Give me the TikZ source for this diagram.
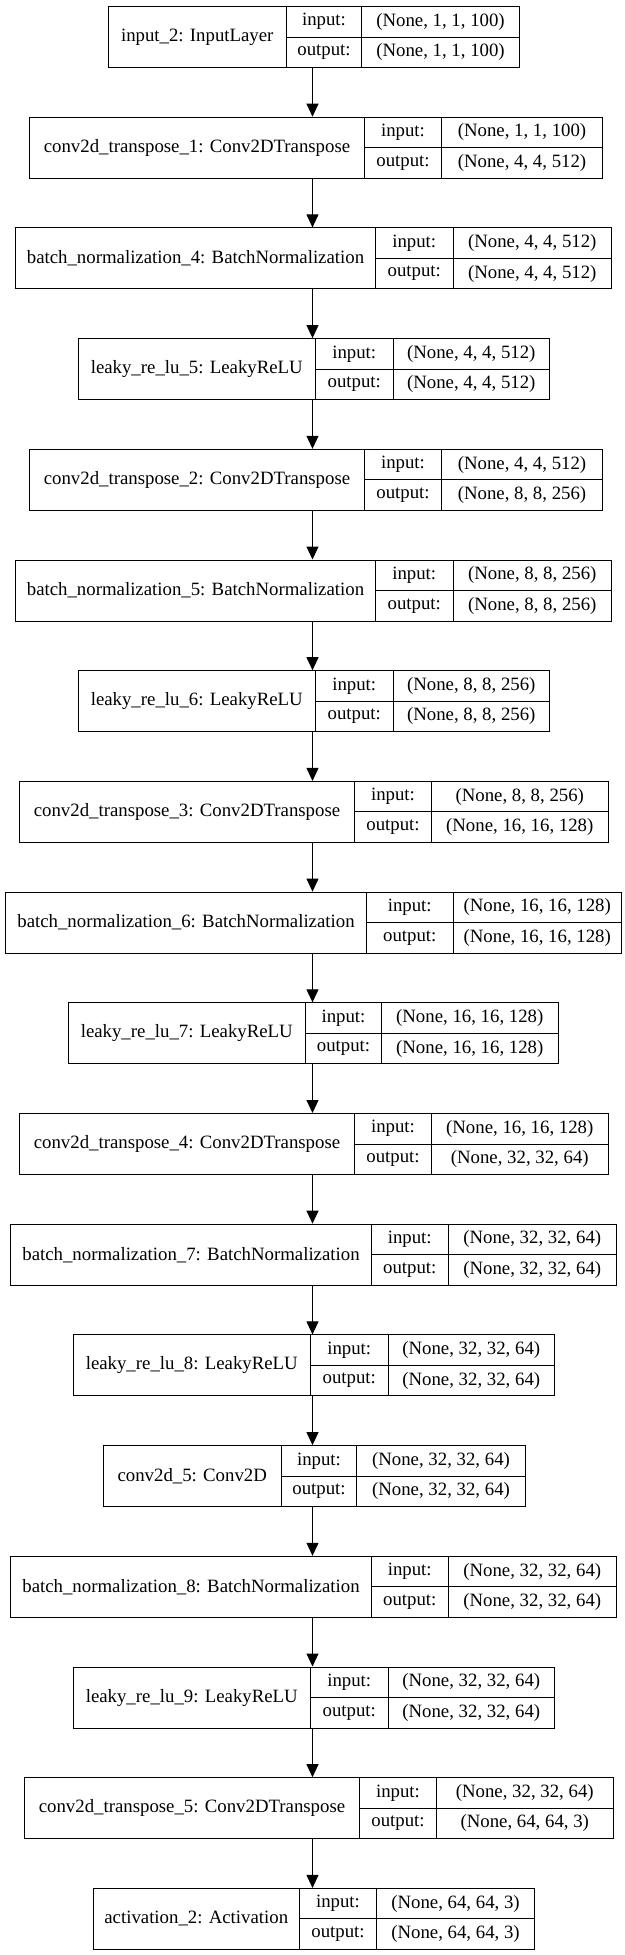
\documentclass[tikz,border=0pt]{standalone}
\usepackage{fontspec}
\setmainfont{Liberation Serif}
\usetikzlibrary{positioning, arrows.meta}

\tikzset{
  cell/.style={draw, line width=1bp, anchor=north west, inner sep=0pt,
    font=\fontsize{18.8bp}{22bp}\selectfont},
  namecell/.style={cell, minimum height=61bp},
  labcell/.style={cell, minimum height=30.5bp},
  flow/.style={line width=1bp, -{Triangle[length=13bp, width=12bp]}}
}

\begin{document}
\begin{tikzpicture}[x=1bp, y=-1bp]
    \useasboundingbox[fill=white] (0,0) rectangle (625,1955);

    % Layers: number / name / cell edges / input shape / output shape
    \foreach \i/\name/\xa/\xb/\xc/\xd/\inp/\outp in {
      1/input\_2: InputLayer/107.5/286/361/519/{(None, 1, 1, 100)}/{(None, 1, 1, 100)},
      2/conv2d\_transpose\_1: Conv2DTranspose/29/364/441/602/{(None, 1, 1, 100)}/{(None, 4, 4, 512)},
      3/batch\_normalization\_4: BatchNormalization/15/375/452.5/611/{(None, 4, 4, 512)}/{(None, 4, 4, 512)},
      4/leaky\_re\_lu\_5: LeakyReLU/77.5/315/392.5/549/{(None, 4, 4, 512)}/{(None, 4, 4, 512)},
      5/conv2d\_transpose\_2: Conv2DTranspose/29/364/441/602/{(None, 4, 4, 512)}/{(None, 8, 8, 256)},
      6/batch\_normalization\_5: BatchNormalization/15/375/452.5/611/{(None, 8, 8, 256)}/{(None, 8, 8, 256)},
      7/leaky\_re\_lu\_6: LeakyReLU/77.5/315/392.5/549/{(None, 8, 8, 256)}/{(None, 8, 8, 256)},
      8/conv2d\_transpose\_3: Conv2DTranspose/19/354/431/607.5/{(None, 8, 8, 256)}/{(None, 16, 16, 128)},
      9/batch\_normalization\_6: BatchNormalization/5/366/452.5/621/{(None, 16, 16, 128)}/{(None, 16, 16, 128)},
      10/leaky\_re\_lu\_7: LeakyReLU/67.5/305/381/557.5/{(None, 16, 16, 128)}/{(None, 16, 16, 128)},
      11/conv2d\_transpose\_4: Conv2DTranspose/19/354/431/607.5/{(None, 16, 16, 128)}/{(None, 32, 32, 64)},
      12/batch\_normalization\_7: BatchNormalization/10/371/447.5/616/{(None, 32, 32, 64)}/{(None, 32, 32, 64)},
      13/leaky\_re\_lu\_8: LeakyReLU/72.5/310/387.5/554/{(None, 32, 32, 64)}/{(None, 32, 32, 64)},
      14/conv2d\_5: Conv2D/102.5/281/356/525/{(None, 32, 32, 64)}/{(None, 32, 32, 64)},
      15/batch\_normalization\_8: BatchNormalization/10/371/447.5/616/{(None, 32, 32, 64)}/{(None, 32, 32, 64)},
      16/leaky\_re\_lu\_9: LeakyReLU/72.5/310/387.5/554/{(None, 32, 32, 64)}/{(None, 32, 32, 64)},
      17/conv2d\_transpose\_5: Conv2DTranspose/24/359/436/612.5/{(None, 32, 32, 64)}/{(None, 64, 64, 3)},
      18/activation\_2: Activation/92.5/299/376/534/{(None, 64, 64, 3)}/{(None, 64, 64, 3)}} {
      \pgfmathsetmacro{\ytop}{6+110.7*(\i-1)}
      \pgfmathsetmacro{\ymid}{\ytop+30.5}

      % Draw the cells of one layer
      \node[namecell, minimum width={(\xb-\xa)*1bp}] (L\i) at (\xa,\ytop) {\name};
      \node[labcell, minimum width={(\xc-\xb)*1bp}] (I\i) at (\xb,\ytop) {input:};
      \node[labcell, minimum width={(\xc-\xb)*1bp}] (O\i) at (\xb,\ymid) {output:};
      \node[labcell, minimum width={(\xd-\xc)*1bp}] (S\i) at (\xc,\ytop) {\inp};
      \node[labcell, minimum width={(\xd-\xc)*1bp}] (T\i) at (\xc,\ymid) {\outp};

      % Ends of the arrows
      \coordinate (top\i) at (312.5,\ytop);
      \coordinate (bot\i) at (312.5,\ytop+61);
    }

    % Draw arrows between layers
    \foreach \i [count=\j from 2] in {1,...,17} {
      \draw[flow] (bot\i) -- (top\j);
    }
\end{tikzpicture}
\end{document}
